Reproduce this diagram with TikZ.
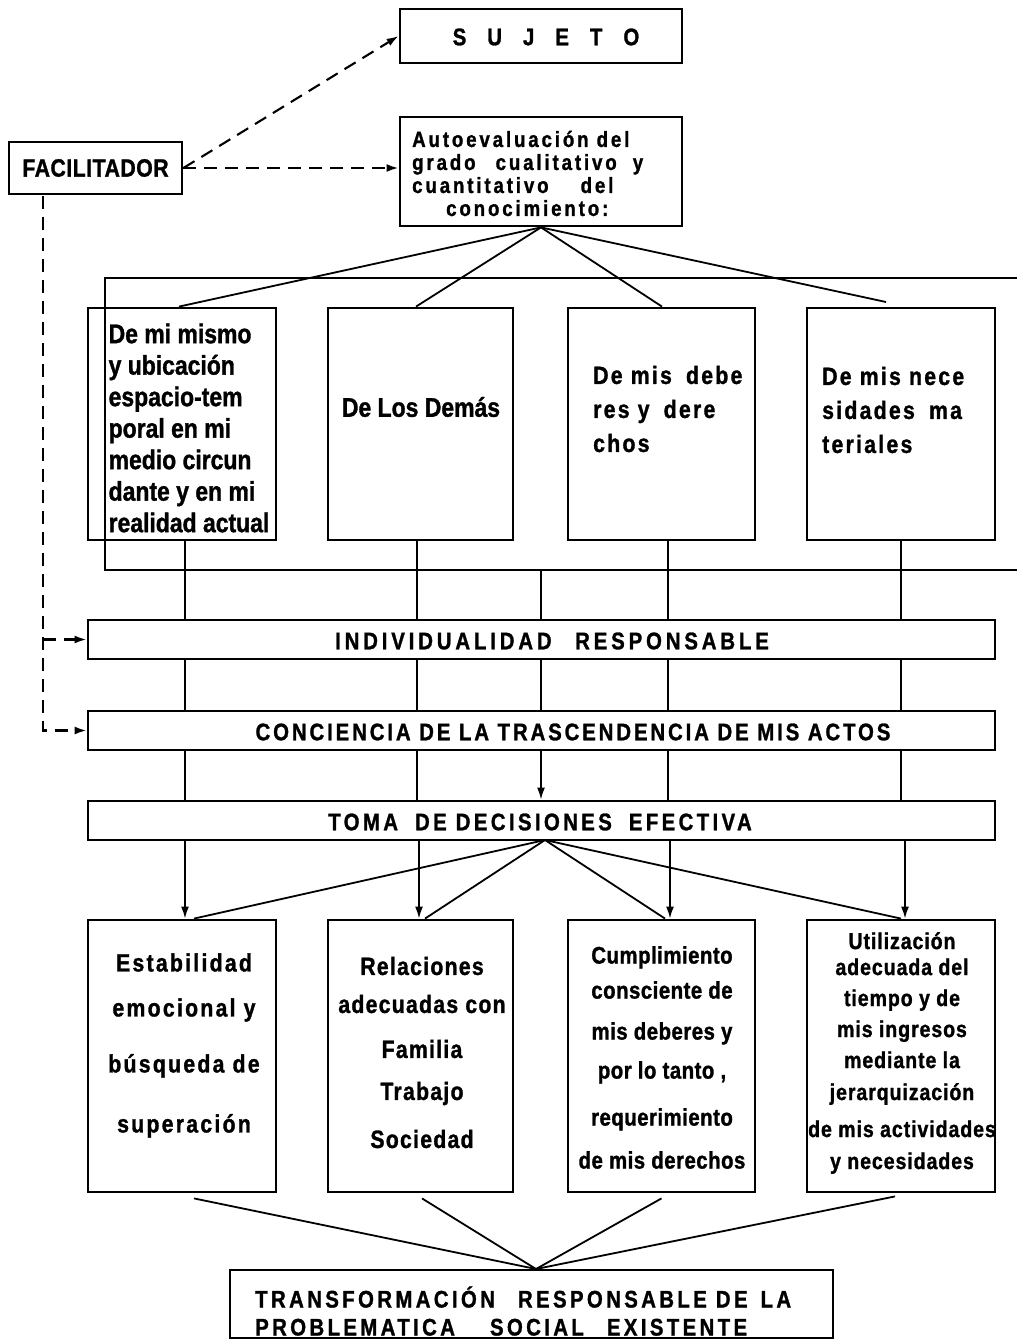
\documentclass[tikz,border=0pt]{standalone}
\usepackage{fontspec}
\setmainfont{Liberation Sans}
\usetikzlibrary{arrows.meta}
\newcommand\myfs[2]{\fontsize{#1}{#2}\selectfont}
\newcommand\hf[1]{\fontspec{Liberation Sans Bold}[FakeStretch=0.85,FakeBold=1.2,LetterSpace=#1]}
\begin{document}
\begin{tikzpicture}[x=1pt,y=-1pt,
  box/.style={draw,line width=2.8pt,inner sep=0pt},
  conn/.style={line width=1.8pt},
  dsh/.style={line width=2.1pt,dash pattern=on 13pt off 8pt},
  tip/.style={-{Latex[length=12pt,width=8pt]}},
  txt/.style={inner sep=0pt}]
\useasboundingbox (0,0) rectangle (1017,1340);

% ---- top boxes
\node[box,minimum width=282pt,minimum height=54pt] (suj) at (541,36) {};
\node[txt,font=\hf{0}\myfs{24}{28}] (sujt) at (546,37)
  {S\hspace{21pt}U\hspace{21pt}J\hspace{21pt}E\hspace{21pt}T\hspace{21pt}O};
\node[box,minimum width=282pt,minimum height=109pt] (auto) at (541,171.5) {};
\node[txt,align=left,anchor=west,font=\hf{13}\myfs{22}{23}] (autot) at (412,173.5)
  {Autoevaluación del\\grado\hspace{12pt} cualitativo\hspace{8pt} y\\cuantitativo\hspace{24pt} del\\\hspace*{34pt}conocimiento:};
\node[box,minimum width=173pt,minimum height=52pt,font=\hf{2}\myfs{25}{28}] (fac) at (95.5,168) {FACILITADOR};

% ---- frame
\coordinate (frTR) at (1017,278);
\coordinate (frTL) at (105,278);
\coordinate (frBL) at (105,570);
\coordinate (frBR) at (1017,570);
\draw[conn] (frTR) -- (frTL) -- (frBL) -- (frBR);

% ---- middle boxes
\node[box,minimum width=188pt,minimum height=232pt] (b1) at (182,424) {};
\node[box,minimum width=185pt,minimum height=232pt] (b2) at (420.5,424) {};
\node[box,minimum width=187pt,minimum height=232pt] (b3) at (661.5,424) {};
\node[box,minimum width=188pt,minimum height=232pt] (b4) at (901,424) {};
\node[txt,align=left,font=\hf{0}\myfs{27}{31.5}] (b1t) at (189,428)
  {De mi mismo\\y ubicación\\espacio-tem\\poral en mi\\medio circun\\dante y en mi\\realidad actual};
\node[txt,font=\hf{0}\myfs{27}{31}] (b2t) at (421,407) {De Los Demás};
\node[txt,align=left,anchor=west,font=\hf{9}\myfs{25}{34}] (b3t) at (593,409)
  {De mis\hspace{6pt} debe\\res y\hspace{6pt} dere\\chos};
\node[txt,align=left,anchor=west,font=\hf{9}\myfs{25}{34}] (b4t) at (822,410)
  {De mis nece\\sidades\hspace{6pt} ma\\teriales};

% ---- fan from autoevaluacion
\coordinate (f4) at (886,302);
\draw[conn] (auto.south) -- ([xshift=-3pt]b1.north);
\draw[conn] (auto.south) -- ([xshift=-4.5pt]b2.north);
\draw[conn] (auto.south) -- ([xshift=0.5pt]b3.north);
\draw[conn] (auto.south) -- (f4);

% ---- bars
\node[box,minimum width=907pt,minimum height=39pt] (ind) at (541.5,639.5) {};
\node[txt,font=\hf{16}\myfs{24}{28}] (indt) at (552,641) {INDIVIDUALIDAD\hspace{14pt} RESPONSABLE};
\node[box,minimum width=907pt,minimum height=39pt] (con) at (541.5,730.5) {};
\node[txt,font=\hf{12}\myfs{24}{28}] (cont) at (573,732) {CONCIENCIA DE LA TRASCENDENCIA DE MIS ACTOS};
\node[box,minimum width=907pt,minimum height=39pt] (toma) at (541.5,820.5) {};
\node[txt,font=\hf{14}\myfs{24}{28}] (tomat) at (540,822) {TOMA\hspace{8pt} DE DECISIONES\hspace{8pt} EFECTIVA};

% ---- vertical connectors
\foreach \x [count=\i] in {185,417,541,668,901} \coordinate (v\i) at (\x,0);
\draw[conn] ([xshift=3pt]b1.south) -- (ind.north -| v1);
\draw[conn] ([xshift=-3.5pt]b2.south) -- (ind.north -| v2);
\draw[conn] (frBL -| v3) -- (ind.north -| v3);
\draw[conn] ([xshift=6.5pt]b3.south) -- (ind.north -| v4);
\draw[conn] (b4.south) -- (ind.north -| v5);
\foreach \i in {1,...,5} \draw[conn] (ind.south -| v\i) -- (con.north -| v\i);
\foreach \i in {1,2,4,5} \draw[conn] (con.south -| v\i) -- (toma.north -| v\i);
\draw[conn,tip] (con.south -| v3) -- (toma.north -| v3);

% ---- facilitador dashed links
\coordinate (dtop) at (43,196);
\draw[dsh,tip] (fac.east) -- (suj.west);
\draw[dsh,tip] (fac.east) -- (auto.west |- fac.east);
\draw[dsh,tip] (dtop) |- (con.west);
\draw[dsh,tip] (dtop |- ind.west) -- (ind.west);

% ---- bottom boxes
\node[box,minimum width=188pt,minimum height=272pt] (c1) at (182,1056) {};
\node[box,minimum width=185pt,minimum height=272pt] (c2) at (420.5,1056) {};
\node[box,minimum width=187pt,minimum height=272pt] (c3) at (661.5,1056) {};
\node[box,minimum width=188pt,minimum height=272pt] (c4) at (901,1056) {};
\node[txt,align=center,font=\hf{9}\myfs{25}{30}] (c1t) at (184,1045.5)
  {Estabilidad\\[15pt]emocional y\\[26pt]búsqueda de\\[30pt]superación};
\node[txt,align=center,font=\hf{5}\myfs{25}{30}] (c2t) at (422,1052.5)
  {Relaciones\\[8pt]adecuadas con\\[15pt]Familia\\[12pt]Trabajo\\[18pt]Sociedad};
\node[txt,align=center,font=\hf{2}\myfs{24}{30}] (c3t) at (662,1057.5)
  {Cumplimiento\\[5pt]consciente de\\[11pt]mis deberes y\\[9pt]por lo tanto ,\\[17pt]requerimiento\\[13pt]de mis derechos};
\node[txt,align=center,font=\hf{4}\myfs{23}{26}] (c4t) at (902,1053)
  {Utilización\\adecuada del\\[5pt]tiempo y de\\[5pt]mis ingresos\\[5pt]mediante la\\[6pt]jerarquización\\[11pt]de mis actividades\\[6pt]y necesidades};

% ---- fan from toma
\coordinate (a1) at (185,0);
\coordinate (a2) at (419,0);
\coordinate (a3) at (670,0);
\coordinate (a4) at (905,0);
\foreach \k/\c in {1/c1,2/c2,3/c3,4/c4} \draw[conn,tip] (toma.south -| a\k) -- (\c.north -| a\k);
\coordinate (tf) at (545,840);
\draw[conn] (tf) -- ([xshift=12pt]c1.north);
\draw[conn] (tf) -- ([xshift=4.5pt]c2.north);
\draw[conn] (tf) -- ([xshift=3.5pt]c3.north);
\draw[conn] (tf) -- (c4.north);

% ---- final box
\node[box,minimum width=603pt,minimum height=68pt] (tr) at (531.5,1304) {};
\node[txt,align=left,anchor=west,font=\hf{14}\myfs{24}{28}] (trt) at (255,1311)
  {TRANSFORMACIÓN\hspace{14pt} RESPONSABLE DE\hspace{4pt} LA\\PROBLEMATICA\hspace{26pt} SOCIAL\hspace{14pt} EXISTENTE};
\coordinate (tc) at (536,1269);
\draw[conn] ([xshift=12pt,yshift=-5pt]c1.south) -- (tc);
\draw[conn] ([xshift=1.5pt,yshift=-5pt]c2.south) -- (tc);
\draw[conn] ([yshift=-5pt]c3.south) -- (tc);
\draw[conn] ([xshift=-6pt,yshift=-3pt]c4.south) -- (tc);
\end{tikzpicture}
\end{document}
